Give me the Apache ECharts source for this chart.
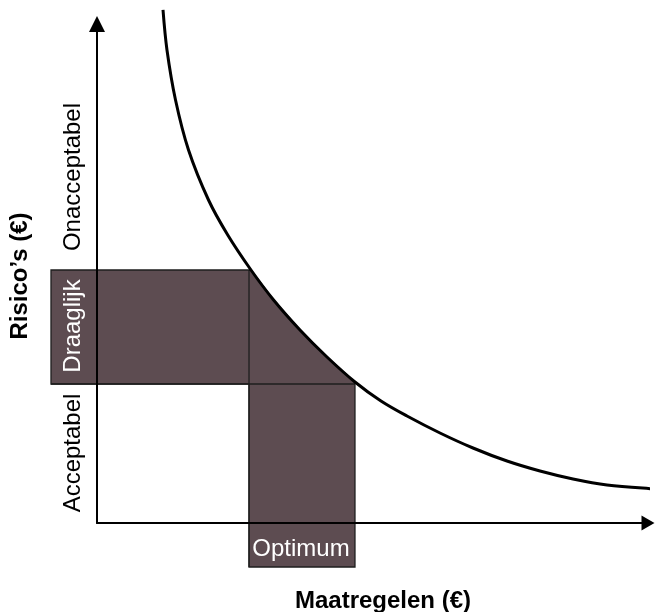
<!DOCTYPE html>
<html>
<head>
<meta charset="utf-8">
<script src="https://cdn.jsdelivr.net/npm/echarts@6/dist/echarts.min.js"></script>
<style>
html,body{margin:0;padding:0;background:#fff;}
#c{width:655px;height:612px;}
</style>
</head>
<body>
<div id="c"></div>
<script>
// Curve points (x: Maatregelen, y: Risico's), axes run 0..100
const curveX = [11.98, 12.70, 14.25, 16.61, 20.24, 23.73, 27.95, 32.05, 36.84, 41.74, 46.82, 51.54, 56.26, 62.25, 68.24, 74.41, 80.40, 86.39, 92.56, 101.27, 103.5];
const curveY = [102.81, 94.79, 84.77, 74.75, 64.73, 57.72, 50.70, 44.69, 38.68, 33.27, 28.26, 24.45, 21.44, 18.04, 15.03, 12.42, 10.42, 8.82, 7.62, 6.81, 6.7];

// Zone boundaries
const tolerableY = [27.86, 50.7];     // Draaglijk band (bottom, top)
const optimumX = [27.59, 46.82];      // Optimum band (left, right)
const bandLeftX = -8.35;              // left end of Draaglijk band
const bandBottomY = -8.82;            // bottom end of Optimum band

// Text labels
const zoneLabels = ['Onacceptabel', 'Draaglijk', 'Acceptabel'];
const optimumLabel = 'Optimum';
const yTitle = 'Risico\u2019s (\u20ac)';
const xTitle = 'Maatregelen (\u20ac)';

const FONT = '"Liberation Sans", Arial, Helvetica, sans-serif';
const FILL = '#5d4c51';
const EDGE = '#1e1e1e';

const chart = echarts.init(document.getElementById('c'), null, {renderer: 'canvas'});

const curveData = curveX.map((x, i) => [x, curveY[i]]);

function renderZones(params, api) {
  const c = (x, y) => api.coord([x, y]);
  const pts = [];
  pts.push(c(bandLeftX, tolerableY[1]));
  for (let i = 0; i < curveX.length; i++) {
    if (curveX[i] >= optimumX[0] - 1e-6 && curveX[i] <= optimumX[1] + 1e-6) {
      pts.push(c(curveX[i], curveY[i]));
    }
  }
  pts.push(c(optimumX[1], bandBottomY));
  pts.push(c(optimumX[0], bandBottomY));
  pts.push(c(optimumX[0], tolerableY[0]));
  pts.push(c(bandLeftX, tolerableY[0]));

  const lineStyle = {stroke: EDGE, lineWidth: 1.3, fill: null};
  const a1 = c(optimumX[0], tolerableY[1]), a2 = c(optimumX[0], bandBottomY);
  const b1 = c(bandLeftX, tolerableY[0]), b2 = c(optimumX[1], tolerableY[0]);
  return {type: 'group', children: [
    {type: 'polygon', shape: {points: pts}, style: {fill: FILL, stroke: EDGE, lineWidth: 1.3}},
    {type: 'line', shape: {x1: a1[0], y1: a1[1], x2: a2[0], y2: a2[1]}, style: lineStyle},
    {type: 'line', shape: {x1: b1[0], y1: b1[1], x2: b2[0], y2: b2[1]}, style: lineStyle}
  ]};
}

function txt(text, x, y, rot, color, bold) {
  return {
    type: 'text', x: x, y: y, rotation: rot, z: 20,
    style: {
      text: text, fill: color,
      font: (bold ? 'bold ' : '') + '24px ' + FONT,
      align: 'center', verticalAlign: 'middle',
      textAlign: 'center', textVerticalAlign: 'middle'
    }
  };
}

const option = {
  animation: false,
  backgroundColor: '#ffffff',
  grid: {left: 97, right: 7, top: 24, bottom: 89, containLabel: false},
  xAxis: {
    type: 'value', min: 0, max: 100, z: 5,
    axisLine: {show: true, onZero: false, symbol: ['none', 'triangle'], symbolSize: [15, 13],
               lineStyle: {color: '#000', width: 2}},
    axisTick: {show: false}, axisLabel: {show: false}, splitLine: {show: false}
  },
  yAxis: {
    type: 'value', min: 0, max: 100, z: 5,
    axisLine: {show: true, onZero: false, symbol: ['none', 'triangle'], symbolSize: [16, 16],
               lineStyle: {color: '#000', width: 2}},
    axisTick: {show: false}, axisLabel: {show: false}, splitLine: {show: false}
  },
  series: [
    {
      type: 'custom', z: 1, clip: false, silent: true,
      renderItem: renderZones,
      data: [[0, 0]]
    },
    {
      type: 'line', z: 6, clip: false, smooth: 0.35, symbol: 'none', silent: true,
      lineStyle: {color: '#000', width: 3},
      data: curveData
    }
  ],
  graphic: [
    txt(zoneLabels[0], 73, 177, Math.PI / 2, '#000', false),
    txt(zoneLabels[1], 73, 326, Math.PI / 2, '#fff', false),
    txt(zoneLabels[2], 73, 453, Math.PI / 2, '#000', false),
    txt(optimumLabel, 301, 549, 0, '#fff', false),
    txt(yTitle, 20, 276, Math.PI / 2, '#000', true),
    txt(xTitle, 383, 601, 0, '#000', true)
  ]
};

chart.setOption(option);
</script>
</body>
</html>
